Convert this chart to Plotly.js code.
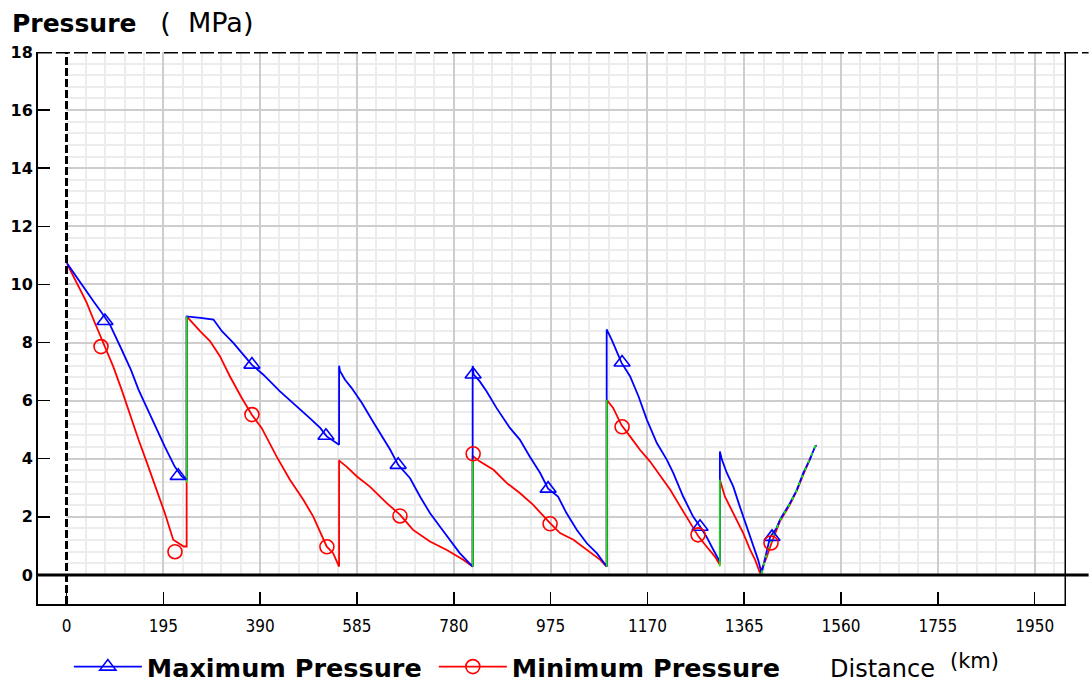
<!DOCTYPE html>
<html>
<head>
<meta charset="utf-8">
<script src="https://cdn.plot.ly/plotly-3.0.1.min.js"></script>
<style>html,body{margin:0;padding:0;background:#fff;}#chart{width:1089px;height:683px;}</style>
</head>
<body>
<div id="chart"></div>
<script>
// ---- Data ----
const maxKm = [0, 20, 37, 55, 70, 88, 111, 130, 145, 162, 178, 198, 218, 232, 242,
  242, 270, 296, 313, 336, 373, 396, 430, 457, 490, 511, 524, 549,
  549, 551, 561, 574, 595, 615, 631, 652, 668, 692, 712, 732, 752, 772, 792, 818,
  818, 820, 832, 846, 866, 893, 913, 933, 954, 970, 990, 1007, 1028, 1048, 1068, 1088,
  1088, 1098, 1118, 1135, 1152, 1169, 1189, 1209, 1222, 1242, 1262, 1276, 1289, 1303, 1316,
  1316, 1320, 1330, 1343, 1356, 1370, 1383, 1393, 1400,
  1410, 1417, 1430, 1437, 1457, 1471, 1484, 1497, 1508, 1511];
const maxMPa = [10.75, 10.25, 9.83, 9.4, 9.05, 8.6, 7.76, 7.05, 6.38, 5.75, 5.11, 4.42, 3.73, 3.39, 3.28,
  8.9, 8.85, 8.79, 8.39, 7.99, 7.24, 6.9, 6.32, 5.92, 5.40, 5.06, 4.77, 4.48,
  7.2, 7.01, 6.72, 6.44, 5.92, 5.34, 4.89, 4.31, 3.79, 3.33, 2.70, 2.13, 1.67, 1.21, 0.75, 0.29,
  7.2, 6.9, 6.67, 6.32, 5.75, 5.06, 4.66, 4.08, 3.51, 2.97, 2.70, 2.13, 1.55, 1.09, 0.75, 0.29,
  8.45, 8.10, 7.30, 6.84, 6.15, 5.34, 4.54, 3.97, 3.51, 2.70, 2.01, 1.67, 1.32, 0.86, 0.45,
  4.25, 3.97, 3.51, 3.04, 2.36, 1.67, 0.98, 0.52, 0.06,
  0.75, 1.3, 1.61, 1.90, 2.47, 2.93, 3.51, 3.97, 4.43, 4.45];

const minKm = [0, 20, 40, 57, 75, 94, 111, 131, 145, 161, 182, 198, 215, 236, 242,
  242, 269, 289, 309, 329, 353, 373, 393, 423, 450, 477, 497, 524, 537, 549,
  549, 551, 564, 585, 611, 645, 672, 698, 732, 766, 799, 818,
  818, 832, 860, 887, 913, 940, 974, 994, 1021, 1048, 1075, 1088,
  1088, 1101, 1118, 1135, 1155, 1175, 1192, 1216, 1236, 1256, 1273, 1289, 1306, 1316,
  1316, 1326, 1336, 1350, 1363, 1377, 1387, 1397,
  1410, 1420, 1437, 1457, 1471, 1484, 1500];
const minMPa = [10.75, 10.06, 9.4, 8.68, 7.95, 7.18, 6.38, 5.34, 4.66, 3.91, 2.93, 2.13, 1.21, 0.98, 0.98,
  8.9, 8.39, 8.05, 7.53, 6.84, 6.09, 5.52, 5.06, 4.08, 3.28, 2.59, 2.01, 0.98, 0.75, 0.29,
  3.95, 3.91, 3.73, 3.39, 3.04, 2.47, 2.07, 1.55, 1.15, 0.86, 0.52, 0.29,
  4.1, 3.91, 3.62, 3.16, 2.82, 2.41, 1.78, 1.44, 1.21, 0.86, 0.52, 0.29,
  6.03, 5.75, 5.15, 4.77, 4.31, 3.91, 3.51, 2.93, 2.36, 1.78, 1.32, 0.98, 0.63, 0.35,
  3.28, 2.70, 2.36, 1.90, 1.44, 0.86, 0.52, 0.06,
  0.6, 1.1, 1.85, 2.42, 2.9, 3.45, 4.1];

// where max and min coincide (drawn green)
const stationKm = [242, 242, null, 818, 818, null, 1088, 1088, null, 1316, 1316];
const stationMPa = [3.17, 8.9, null, 0.29, 3.97, null, 0.29, 6.03, null, 0.29, 3.28];
const riseKm = [1400, 1410, 1420, 1437, 1457, 1471, 1484, 1497, 1508, 1511];
const riseMPa = [0.06, 0.7, 1.2, 1.88, 2.45, 2.92, 3.48, 3.97, 4.43, 4.45];

const maxMarkKm = [77.5, 225, 373.5, 522.6, 668, 819, 970, 1119, 1276, 1421];
const maxMarkMPa = [8.74, 3.41, 7.24, 4.79, 3.79, 6.9, 2.97, 7.31, 1.66, 1.31];
const minMarkKm = [69.5, 218.5, 373.5, 524.5, 671.6, 819, 974, 1119, 1272, 1419];
const minMarkMPa = [7.86, 0.80, 5.52, 0.97, 2.03, 4.17, 1.76, 5.1, 1.38, 1.10];

const xTicks = [0, 195, 390, 585, 780, 975, 1170, 1365, 1560, 1755, 1950];
const yTicks = [0, 2, 4, 6, 8, 10, 12, 14, 16, 18];

const seriesNames = ['Maximum Pressure', 'Minimum Pressure'];
const BLUE = '#0000ff', RED = '#ff0000', GREEN = '#11ee00';

const triMarker = {symbol: 'triangle-up-open', size: 14, color: BLUE, line: {width: 1.6, color: BLUE}};
const cirMarker = {symbol: 'circle-open', size: 14, color: RED, line: {width: 1.6, color: RED}};

const traces = [
  {x: minKm, y: minMPa, xaxis: 'x2', yaxis: 'y2', mode: 'lines', line: {color: RED, width: 1.8}, showlegend: false, cliponaxis: false, hoverinfo: 'skip'},
  {x: maxKm, y: maxMPa, xaxis: 'x2', yaxis: 'y2', mode: 'lines', line: {color: BLUE, width: 1.8}, showlegend: false, cliponaxis: false, hoverinfo: 'skip'},
  {x: stationKm, y: stationMPa, xaxis: 'x2', yaxis: 'y2', mode: 'lines', line: {color: GREEN, width: 1.6}, showlegend: false, cliponaxis: false, hoverinfo: 'skip'},
  {x: riseKm, y: riseMPa, xaxis: 'x2', yaxis: 'y2', mode: 'lines', line: {color: GREEN, width: 1.8, dash: '3px,5px'}, showlegend: false, cliponaxis: false, hoverinfo: 'skip'},
  {x: maxMarkKm, y: maxMarkMPa, xaxis: 'x2', yaxis: 'y2', mode: 'markers', marker: triMarker, showlegend: false, cliponaxis: false},
  {x: minMarkKm, y: minMarkMPa, xaxis: 'x2', yaxis: 'y2', mode: 'markers', marker: cirMarker, showlegend: false, cliponaxis: false},
  // legend entries
  {x: [null], y: [null], name: seriesNames[0], mode: 'lines+markers', line: {color: BLUE, width: 1.8}, marker: triMarker},
  {x: [null], y: [null], name: seriesNames[1], mode: 'lines+markers', line: {color: RED, width: 1.8}, marker: cirMarker}
];

const xmin = -57.4, xmax = 2013.1, ymin = -1, ymax = 18;
const dx = (0 - xmin) / (xmax - xmin);
const dy = (0 - ymin) / (ymax - ymin);

const layout = {
  width: 1089, height: 683,
  margin: {l: 38, r: 23, t: 52, b: 79, autoexpand: false},
  paper_bgcolor: '#ffffff',
  plot_bgcolor: 'rgba(0,0,0,0)',
  font: {family: 'DejaVu Sans, sans-serif', color: '#000'},
  title: {
    text: '<b>Pressure</b>\u00a0\u00a0\u00a0<span style="font-size:27px">(\u00a0\u00a0MPa)</span>',
    x: 12 / 1089, xanchor: 'left', y: 1 - 23 / 683, yanchor: 'middle',
    font: {family: 'DejaVu Sans, sans-serif', size: 25, color: '#000'}
  },
  xaxis: {
    range: [xmin, xmax], domain: [0, 1], showgrid: false, zeroline: false,
    showline: true, linecolor: '#000', linewidth: 2,
    tickmode: 'array', tickvals: xTicks, ticktext: xTicks.map(String),
    ticks: 'inside', ticklen: 12, tickwidth: 1.5, tickcolor: '#000',
    tickfont: {family: 'Liberation Sans Narrow, DejaVu Sans Condensed, Liberation Sans, sans-serif', size: 17, color: '#000'},
    ticklabelstandoff: 6,
    fixedrange: true
  },
  yaxis: {
    range: [ymin, ymax], domain: [0, 1], showgrid: false, zeroline: false,
    showline: true, linecolor: '#000', linewidth: 2,
    tickmode: 'array', tickvals: yTicks, ticktext: yTicks.map(String),
    ticks: 'inside', ticklen: 12, tickwidth: 1.5, tickcolor: '#000',
    tickfont: {family: 'DejaVu Sans, sans-serif', size: 16, color: '#000', weight: 'bold'},
    fixedrange: true
  },
  xaxis2: {
    range: [0, xmax], domain: [dx, 1], anchor: 'y2',
    showticklabels: false, ticks: '', showline: false, zeroline: false,
    showgrid: true, gridcolor: '#cdcdcd', gridwidth: 2, tick0: 0, dtick: 195,
    minor: {dtick: 39, showgrid: true, gridcolor: '#ececec', gridwidth: 2},
    fixedrange: true
  },
  yaxis2: {
    range: [0, ymax], domain: [dy, 1], anchor: 'x2',
    showticklabels: false, ticks: '', showline: false, zeroline: false,
    showgrid: true, gridcolor: '#cdcdcd', gridwidth: 2, tick0: 0, dtick: 2,
    minor: {dtick: 0.4, showgrid: true, gridcolor: '#ececec', gridwidth: 2},
    fixedrange: true
  },
  showlegend: true,
  legend: {
    orientation: 'h', x: 0.03, xanchor: 'left', y: (604 - 667) / 552, yanchor: 'middle',
    font: {family: 'DejaVu Sans, sans-serif', size: 25.5, color: '#000', weight: 'bold'},
    bgcolor: 'rgba(0,0,0,0)', itemwidth: 68, entrywidth: 282, entrywidthmode: 'pixels', tracegroupgap: 0
  },
  shapes: [
    {type: 'line', xref: 'paper', yref: 'y', x0: 0, x1: 1.022, y0: ymax, y1: ymax, line: {color: '#000', width: 3, dash: '14px,4px'}, layer: 'above'},
    {type: 'line', xref: 'x', yref: 'paper', x0: xmax, x1: xmax, y0: 0, y1: 1, line: {color: '#000', width: 3}, layer: 'above'},
    {type: 'line', xref: 'paper', yref: 'y', x0: 0, x1: 1.022, y0: 0, y1: 0, line: {color: '#000', width: 3}, layer: 'above'},
    {type: 'line', xref: 'x', yref: 'paper', x0: 0, x1: 0, y0: 0, y1: 1, line: {color: '#000', width: 3, dash: '8px,3px'}, layer: 'above'}
  ],
  annotations: [
    {text: 'Distance', xref: 'paper', yref: 'paper', x: (828 - 38) / 1028, xanchor: 'left', y: (604 - 669) / 552, yanchor: 'middle', showarrow: false,
     font: {family: 'DejaVu Sans, sans-serif', size: 24, color: '#000'}},
    {text: '(km)', xref: 'paper', yref: 'paper', x: (948 - 38) / 1028, xanchor: 'left', y: (604 - 661) / 552, yanchor: 'middle', showarrow: false,
     font: {family: 'DejaVu Sans, sans-serif', size: 21, color: '#000'}}
  ]
};

Plotly.newPlot('chart', traces, layout, {displayModeBar: false, staticPlot: true});
</script>
</body>
</html>
